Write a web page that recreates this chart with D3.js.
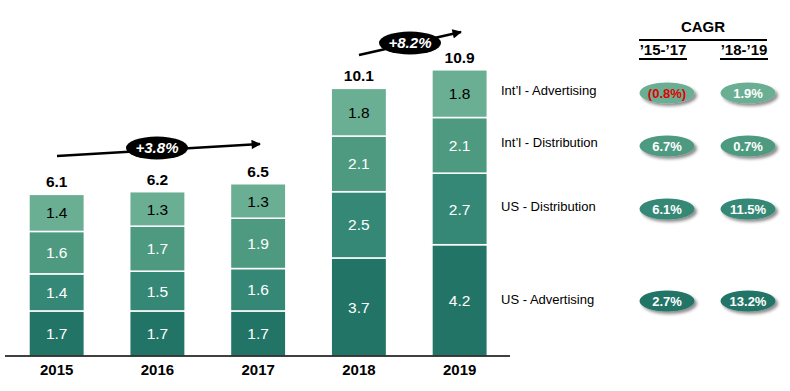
<!DOCTYPE html>
<html>
<head>
<meta charset="utf-8">
<script src="https://cdn.jsdelivr.net/npm/d3@7"></script>
<style>
html,body{margin:0;padding:0;background:#fff;}
svg{display:block;font-family:Arial, "Liberation Sans", sans-serif;}
</style>
</head>
<body>
<svg id="chart" width="790" height="391"></svg>
<script>
const years = ["2015","2016","2017","2018","2019"];
const seriesNames = ["US - Advertising","US - Distribution","Int\u2019l - Distribution","Int\u2019l - Advertising"];
const usAdvertising = [1.7,1.7,1.7,3.7,4.2];
const usDistribution = [1.4,1.5,1.6,2.5,2.7];
const intlDistribution = [1.6,1.7,1.9,2.1,2.1];
const intlAdvertising = [1.4,1.3,1.3,1.8,1.8];
const totals = [6.1,6.2,6.5,10.1,10.9];
const cagrHeaders = ["\u201915-\u201917","\u201918-\u201919"];
const cagr1517 = ["2.7%","6.1%","6.7%","(0.8%)"];
const cagr1819 = ["13.2%","11.5%","0.7%","1.9%"];
const growthLabels = ["+3.8%","+8.2%"];
const colors = ["#227566","#358876","#4e9a80","#6aae93"];

const svg = d3.select("#chart");
const defs = svg.append("defs");
const f = defs.append("filter").attr("id","sh").attr("x","-20%").attr("y","-30%").attr("width","150%").attr("height","170%");
f.append("feDropShadow").attr("dx",2.5).attr("dy",2.5).attr("stdDeviation",1.6).attr("flood-color","#000").attr("flood-opacity",0.45);
defs.append("marker").attr("id","ah").attr("viewBox","0 0 10 10").attr("refX",9).attr("refY",5)
  .attr("markerWidth",4.2).attr("markerHeight",3.6).attr("markerUnits","strokeWidth").attr("orient","auto")
  .append("path").attr("d","M0,0 L10,5 L0,10 z").attr("fill","#000");

const x = d3.scaleBand().domain(years).range([6.3,510]).paddingInner(0.45).paddingOuter(0.225);
const y = d3.scaleLinear().domain([0,11]).range([356,64.5]);

const seriesData = [usAdvertising, usDistribution, intlDistribution, intlAdvertising];
const table = years.map((yr,i)=>{const o={year:yr}; seriesNames.forEach((n,k)=>o[n]=seriesData[k][i]); return o;});
const stacked = d3.stack().keys(seriesNames)(table);

const g = svg.append("g");
stacked.forEach((layer,k)=>{
  const lg = g.append("g");
  lg.selectAll("rect").data(layer).join("rect")
    .attr("x",d=>x(d.data.year)).attr("width",x.bandwidth())
    .attr("y",d=>y(d[1])).attr("height",d=>y(d[0])-y(d[1]))
    .attr("fill",colors[k]).attr("stroke","#fff").attr("stroke-width",1.5);
  lg.selectAll("text").data(layer).join("text")
    .attr("x",d=>x(d.data.year)+x.bandwidth()/2)
    .attr("y",d=>(y(d[0])+y(d[1]))/2)
    .attr("dy","0.36em").attr("text-anchor","middle")
    .attr("font-size","15.5px").attr("fill",k===3?"#000":"#fff")
    .text(d=>d3.format(".1f")(d[1]-d[0]));
});

// totals
g.selectAll(".tot").data(years).join("text").attr("class","tot")
  .attr("x",d=>x(d)+x.bandwidth()/2)
  .attr("y",(d,i)=>y(d3.sum(seriesData,s=>s[i]))-7)
  .attr("text-anchor","middle").attr("font-size","15.5px").attr("font-weight","bold").attr("fill","#000")
  .text((d,i)=>d3.format(".1f")(totals[i]));

// axis
const ax = svg.append("g").attr("transform","translate(0,356)")
  .call(d3.axisBottom(x).tickSize(0).tickPadding(8).tickSizeOuter(0));
ax.select(".domain").remove();
ax.append("line").attr("x1",5).attr("x2",510).attr("y1",0).attr("y2",0).attr("stroke","#000").attr("stroke-width",1.5);
ax.selectAll(".tick text").attr("font-size","15px").attr("font-weight","bold").attr("fill","#000")
  .attr("font-family","Arial, 'Liberation Sans', sans-serif");

// growth arrows
function arrow(x1,y1,x2,y2,cx,cy,label){
  svg.append("line").attr("x1",x1).attr("y1",y1).attr("x2",x2).attr("y2",y2)
    .attr("stroke","#000").attr("stroke-width",2.6).attr("marker-end","url(#ah)");
  svg.append("ellipse").attr("cx",cx).attr("cy",cy).attr("rx",31).attr("ry",11.5).attr("fill","#000");
  svg.append("text").attr("x",cx).attr("y",cy).attr("dy","0.36em").attr("text-anchor","middle")
    .attr("font-size","15px").attr("font-weight","bold").attr("font-style","italic").attr("fill","#fff").text(label);
}
arrow(57,156,260,144,157,148,growthLabels[0]);
arrow(359,55,461,32,410,43,growthLabels[1]);

// CAGR table
svg.append("text").attr("x",703).attr("y",27).attr("dy","0.36em").attr("text-anchor","middle")
  .attr("font-size","15px").attr("font-weight","bold").text("CAGR");
svg.append("line").attr("x1",639).attr("x2",767).attr("y1",40).attr("y2",40).attr("stroke","#000").attr("stroke-width",2);
const colX = [663,744];
cagrHeaders.forEach((h,i)=>{
  svg.append("text").attr("x",colX[i]).attr("y",50).attr("dy","0.36em").attr("text-anchor","middle")
    .attr("font-size","15px").attr("font-weight","bold").text(h);
  svg.append("line").attr("x1",colX[i]-24).attr("x2",colX[i]+24).attr("y1",59).attr("y2",59).attr("stroke","#000").attr("stroke-width",2);
});
const rowLabelY = [299,206,142,90];
const rowPillY = [301,209,146,93];
const pillX = [667,748];
seriesNames.forEach((n,k)=>{
  svg.append("text").attr("x",501).attr("y",rowLabelY[k]).attr("dy","0.36em").attr("font-size","13px").attr("fill","#000").text(n);
  [cagr1517[k],cagr1819[k]].forEach((v,j)=>{
    svg.append("ellipse").attr("cx",pillX[j]).attr("cy",rowPillY[k]).attr("rx",27.5).attr("ry",10.5)
      .attr("fill",colors[k]).attr("filter","url(#sh)");
    svg.append("text").attr("x",pillX[j]).attr("y",rowPillY[k]).attr("dy","0.36em").attr("text-anchor","middle")
      .attr("font-size","13px").attr("font-weight","bold").attr("fill",v.startsWith("(")?"#e00000":"#fff").text(v);
  });
});
</script>
</body>
</html>
